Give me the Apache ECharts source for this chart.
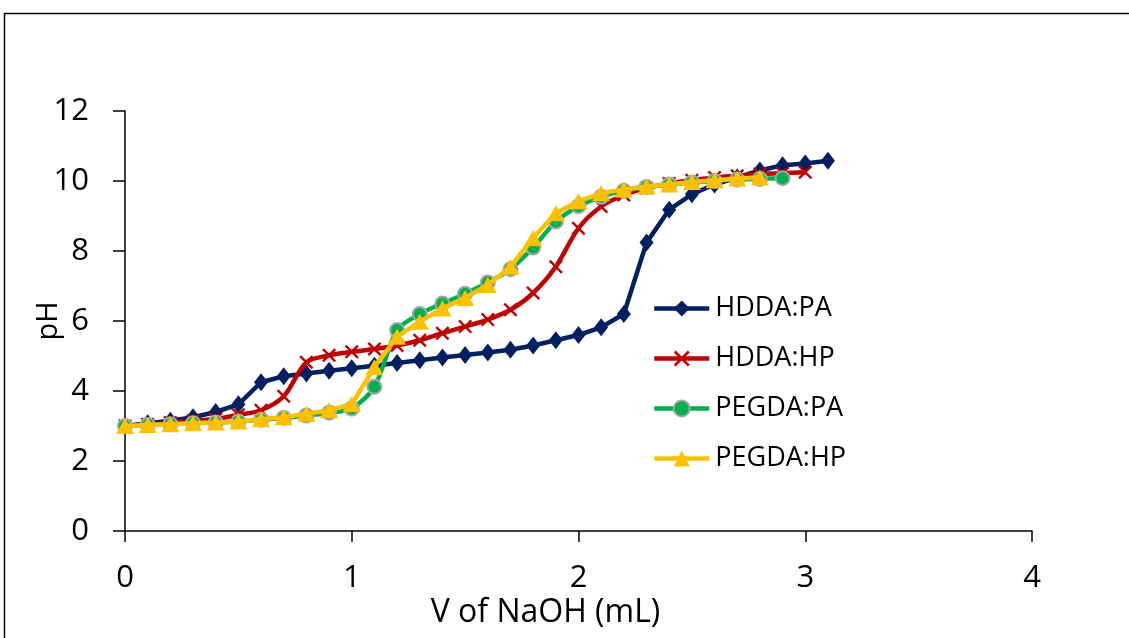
<!DOCTYPE html>
<html>
<head>
<meta charset="utf-8">
<script src="https://cdn.jsdelivr.net/npm/echarts@6/dist/echarts.min.js"></script>
<style>
  html, body { margin: 0; padding: 0; background: #fff; }
  #chart { width: 1129px; height: 638px; }
</style>
</head>
<body>
<div id="chart"></div>
<script>
// Titration curves: pH against added NaOH volume (mL)
const seriesNames = ['HDDA:PA', 'HDDA:HP', 'PEGDA:PA', 'PEGDA:HP'];

const volHddaPa = [0, 0.1, 0.2, 0.3, 0.4, 0.5, 0.6, 0.7, 0.8, 0.9, 1.0, 1.1, 1.2, 1.3, 1.4, 1.5,
  1.6, 1.7, 1.8, 1.9, 2.0, 2.1, 2.2, 2.3, 2.4, 2.5, 2.6, 2.7, 2.8, 2.9, 3.0, 3.1];
const phHddaPa = [3.00, 3.08, 3.15, 3.25, 3.40, 3.62, 4.25, 4.42, 4.50, 4.58, 4.65, 4.72, 4.80, 4.88, 4.96, 5.03,
  5.10, 5.18, 5.30, 5.45, 5.60, 5.82, 6.20, 8.24, 9.18, 9.62, 9.90, 10.10, 10.30, 10.45, 10.50, 10.58];

const volHddaHp = [0, 0.1, 0.2, 0.3, 0.4, 0.5, 0.6, 0.7, 0.8, 0.9, 1.0, 1.1, 1.2, 1.3, 1.4, 1.5,
  1.6, 1.7, 1.8, 1.9, 2.0, 2.1, 2.2, 2.3, 2.4, 2.5, 2.6, 2.7, 2.8, 2.9, 3.0];
const phHddaHp = [3.00, 3.05, 3.10, 3.15, 3.20, 3.32, 3.45, 3.85, 4.82, 5.02, 5.12, 5.20, 5.30, 5.45, 5.65, 5.84,
  6.04, 6.32, 6.80, 7.55, 8.65, 9.27, 9.60, 9.80, 9.93, 10.02, 10.10, 10.15, 10.20, 10.22, 10.25];

const volPegdaPa = [0, 0.1, 0.2, 0.3, 0.4, 0.5, 0.6, 0.7, 0.8, 0.9, 1.0, 1.1, 1.2, 1.3, 1.4, 1.5,
  1.6, 1.7, 1.8, 1.9, 2.0, 2.1, 2.2, 2.3, 2.4, 2.5, 2.6, 2.7, 2.8, 2.9];
const phPegdaPa = [3.00, 3.03, 3.05, 3.08, 3.10, 3.13, 3.18, 3.23, 3.30, 3.38, 3.50, 4.12, 5.74, 6.20, 6.50, 6.78,
  7.10, 7.48, 8.10, 8.84, 9.28, 9.55, 9.72, 9.83, 9.90, 9.96, 10.00, 10.04, 10.06, 10.08];

const volPegdaHp = [0, 0.1, 0.2, 0.3, 0.4, 0.5, 0.6, 0.7, 0.8, 0.9, 1.0, 1.1, 1.2, 1.3, 1.4, 1.5,
  1.6, 1.7, 1.8, 1.9, 2.0, 2.1, 2.2, 2.3, 2.4, 2.5, 2.6, 2.7, 2.8];
const phPegdaHp = [3.00, 3.03, 3.05, 3.08, 3.10, 3.13, 3.19, 3.25, 3.35, 3.45, 3.62, 4.68, 5.55, 5.98, 6.36, 6.66,
  7.03, 7.55, 8.37, 9.08, 9.42, 9.65, 9.76, 9.84, 9.90, 9.97, 10.02, 10.07, 10.10];

const xTicks = [0, 1, 2, 3, 4];
const yTicks = [0, 2, 4, 6, 8, 10, 12];

const pair = (xs, ys) => xs.map((x, i) => [x, ys[i]]);

const FONT = '"Open Sans", "Noto Sans", sans-serif';
const crossPath = 'path://M0,1.2 L1.2,0 L5,3.8 L8.8,0 L10,1.2 L6.2,5 L10,8.8 L8.8,10 L5,6.2 L1.2,10 L0,8.8 L3.8,5 Z';

const chart = echarts.init(document.getElementById('chart'), null, { renderer: 'canvas' });

chart.setOption({
  backgroundColor: '#ffffff',
  animation: false,
  textStyle: { fontFamily: FONT, color: '#000' },
  graphic: [{
    type: 'rect',
    shape: { x: 4.5, y: 13.5, width: 1200, height: 700 },
    style: { fill: 'none', stroke: '#000', lineWidth: 1.5 },
    silent: true, z: -1
  }],
  grid: { left: 125, right: 97, top: 111, bottom: 107, containLabel: false },
  legend: {
    orient: 'vertical',
    left: 652,
    top: 295,
    padding: 0,
    itemWidth: 55,
    itemHeight: 20,
    itemGap: 23,
    lineStyle: { width: 4.5 },
    textStyle: { fontFamily: FONT, fontSize: 27, color: '#000', padding: [0, 0, 0, 1] },
    data: seriesNames
  },
  xAxis: {
    type: 'value',
    min: xTicks[0],
    max: xTicks[xTicks.length - 1],
    interval: 1,
    name: 'V of NaOH (mL)',
    nameLocation: 'middle',
    nameGap: 66,
    nameMoveOverlap: false,
    nameTextStyle: { fontFamily: FONT, fontSize: 32, color: '#000', padding: [0, 66, 0, 0] },
    axisLine: { onZero: false, lineStyle: { color: '#000', width: 1.5 } },
    axisTick: { show: true, length: 11, lineStyle: { color: '#000', width: 1.5 } },
    axisLabel: { fontFamily: FONT, fontSize: 31, color: '#000', margin: 32 },
    splitLine: { show: false }
  },
  yAxis: {
    type: 'value',
    min: yTicks[0],
    max: yTicks[yTicks.length - 1],
    interval: 2,
    name: 'pH',
    nameLocation: 'middle',
    nameGap: 62,
    nameMoveOverlap: false,
    nameTextStyle: { fontFamily: FONT, fontSize: 29, color: '#000' },
    axisLine: { show: true, lineStyle: { color: '#000', width: 1.5 } },
    axisTick: { show: true, length: 12, lineStyle: { color: '#000', width: 1.5 } },
    axisLabel: { fontFamily: FONT, fontSize: 31, color: '#000', margin: 36 },
    splitLine: { show: false }
  },
  series: [
    {
      name: seriesNames[0],
      type: 'line',
      data: pair(volHddaPa, phHddaPa),
      symbol: 'diamond',
      symbolSize: [14, 18],
      lineStyle: { color: '#002060', width: 4.5 },
      itemStyle: { color: '#002060' },
      z: 2
    },
    {
      name: seriesNames[1],
      type: 'line',
      smooth: 0.3,
      data: pair(volHddaHp, phHddaHp),
      symbol: crossPath,
      symbolSize: 14,
      lineStyle: { color: '#c00000', width: 4.5 },
      itemStyle: { color: '#c00000' },
      z: 3
    },
    {
      name: seriesNames[2],
      type: 'line',
      smooth: 0.3,
      data: pair(volPegdaPa, phPegdaPa),
      symbol: 'circle',
      symbolSize: 14,
      lineStyle: { color: '#00b050', width: 4.5 },
      itemStyle: { color: '#00b050', borderColor: '#a5a5a5', borderWidth: 2 },
      z: 4
    },
    {
      name: seriesNames[3],
      type: 'line',
      data: pair(volPegdaHp, phPegdaHp),
      symbol: 'triangle',
      symbolSize: [18, 16],
      lineStyle: { color: '#ffc000', width: 4.5 },
      itemStyle: { color: '#ffc000' },
      z: 5
    }
  ]
});
</script>
</body>
</html>
